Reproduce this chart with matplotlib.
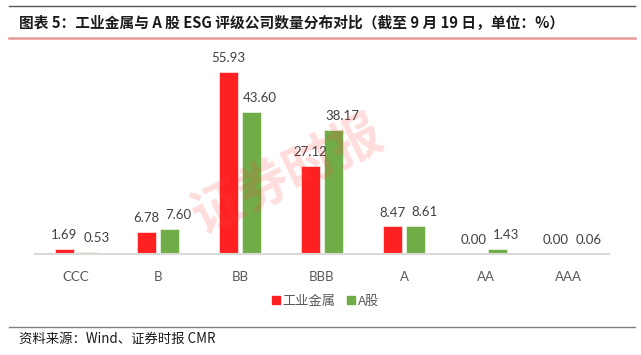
import matplotlib
matplotlib.use("Agg")
import matplotlib.pyplot as plt
from matplotlib.lines import Line2D
import numpy as np

categories = ["CCC", "B", "BB", "BBB", "A", "AA", "AAA"]
industrial_metals = [1.69, 6.78, 55.93, 27.12, 8.47, 0.00, 0.00]
a_shares = [0.53, 7.60, 43.60, 38.17, 8.61, 1.43, 0.06]
series_names = ["工业金属", "A股"]
title_text = "图表 5：工业金属与 A 股 ESG 评级公司数量分布对比（截至 9 月 19 日，单位：%）"
source_text = "资料来源：Wind、证券时报 CMR"
watermark_text = "证券时报"

W, H = 641, 355
fig = plt.figure(figsize=(W / 100, H / 100), dpi=100)
fig.patch.set_facecolor("white")

cjk = ["Noto Sans CJK SC", "DejaVu Sans"]
num_font = ["Lato", "DejaVu Sans"]

def fx(px):
    return px / W

def fy(py):
    return 1 - py / H

ax = fig.add_axes([fx(35), fy(254), fx(609) - fx(35), fy(59) - fy(254)])
x = np.arange(len(categories))
off = 0.146
bw = 0.232
red = "#FF2121"
green = "#70AD47"
ax.bar(x - off, industrial_metals, bw, color=red, edgecolor="white", linewidth=0.4, zorder=2)
ax.bar(x + off, a_shares, bw, color=green, edgecolor="white", linewidth=0.4, zorder=2)

for i, v in enumerate(industrial_metals):
    ax.annotate(f"{v:.2f}", (x[i] - off, v), xytext=(0, 10), textcoords="offset points",
                ha="center", va="center", fontsize=9.5, color="#404040", family=num_font)
for i, v in enumerate(a_shares):
    ax.annotate(f"{v:.2f}", (x[i] + off, v), xytext=(6, 10), textcoords="offset points",
                ha="center", va="center", fontsize=9.5, color="#404040", family=num_font)

ax.set_xlim(-0.5, len(categories) - 0.5)
ax.set_ylim(0, 60)
ax.set_xticks(x)
ax.set_xticklabels(categories, fontsize=9.5, color="#595959", family=num_font)
ax.tick_params(axis="x", length=0, pad=12)
ax.set_yticks([])
for s in ["top", "right", "left"]:
    ax.spines[s].set_visible(False)
ax.spines["bottom"].set_color("#D9D9D9")
ax.spines["bottom"].set_linewidth(1.5)
ax.set_facecolor("none")

# watermark
fig.text(fx(288), fy(175), watermark_text, fontsize=37, color="#FF4040", alpha=0.18,
         rotation=26, ha="center", va="center", family=cjk, fontweight="bold", zorder=5)

# legend
handles = [Line2D([], [], marker="s", linestyle="none", markersize=6, color=red),
           Line2D([], [], marker="s", linestyle="none", markersize=6, color=green)]
fig.legend(handles, series_names, loc="center", bbox_to_anchor=(fx(325), fy(301)), ncol=2,
           frameon=False, handlelength=0.8, handletextpad=0.1, columnspacing=0.8,
           prop={"family": cjk, "size": 9.5}, labelcolor="#595959")

# header / footer lines
fig.add_artist(Line2D([fx(9), fx(635)], [fy(6), fy(6)], color="#555555", linewidth=1.0))
fig.add_artist(Line2D([fx(9), fx(635)], [fy(38), fy(38)], color="#E89A9A", linewidth=1.8))
fig.add_artist(Line2D([fx(9), fx(635)], [fy(327), fy(327)], color="#808080", linewidth=1.0))

fig.text(fx(19), fy(23), title_text, fontsize=10.6, fontweight="bold", color="#1a1a1a",
         ha="left", va="center", family=cjk)
fig.text(fx(19), fy(339), source_text, fontsize=9.6, color="#1a1a1a",
         ha="left", va="center", family=cjk)

fig.savefig("out.png", dpi=100)
